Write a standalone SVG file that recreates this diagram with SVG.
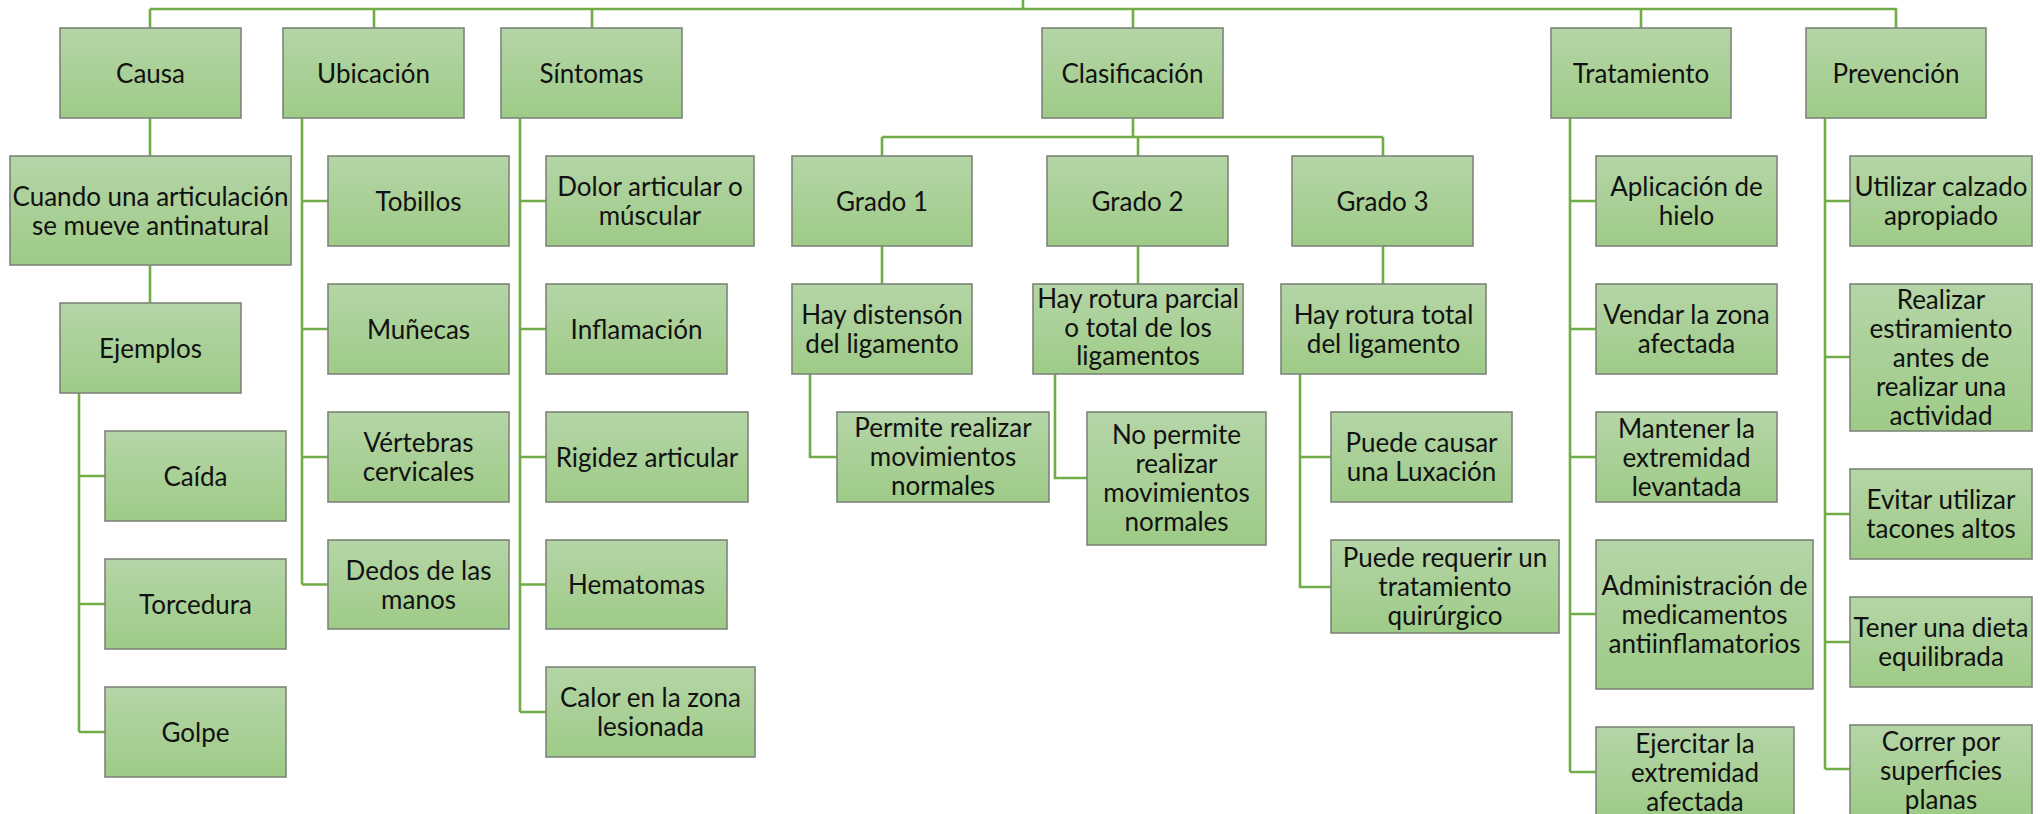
<svg xmlns="http://www.w3.org/2000/svg" width="2041" height="814" viewBox="0 0 2041 814">
<defs>
<linearGradient id="g" x1="0" y1="0" x2="0" y2="1">
<stop offset="0" stop-color="#b5d5a7"/>
<stop offset="1" stop-color="#9ecb87"/>
</linearGradient>
<style>
.b{fill:url(#g);stroke:#7d857a;stroke-width:1.6}
.t{font-family:Lato,"Liberation Sans",sans-serif;font-size:26px;fill:#111;text-anchor:middle}
.c{fill:none;stroke:#70ad47;stroke-width:2.6}
</style>
</defs>
<rect width="2041" height="814" fill="#fff"/>
<g id="connectors" class="c">
<path d="M1023,0V9M150,9H1897M150,9V28M374,9V28M592,9V28M1133,9V28M1641,9V28M1896,9V28"/>
<path d="M150,118V156M150,265V303M79,393V732M79,476H105M79,604H105M79,732H105"/>
<path d="M302,118V584.5M302,201H328M302,329H328M302,457H328M302,584.5H328"/>
<path d="M520,118V712M520,201H546M520,329H546M520,457H546M520,584.5H546M520,712H546"/>
<path d="M1133,118V137M882,137H1383M882,137V156M1138,137V156M1383,137V156"/>
<path d="M882,246V284M1138,246V284M1383,246V284"/>
<path d="M810,374V457H837M1055,374V478H1087M1300,374V587H1331M1300,457H1331"/>
<path d="M1570,118V772M1570,201H1596M1570,329H1596M1570,457H1596M1570,614H1596M1570,772H1596"/>
<path d="M1825,118V769M1825,201H1850M1825,357H1850M1825,514H1850M1825,642H1850M1825,769H1850"/>
</g>
<g id="causa"><rect class="b" x="60" y="28" width="181" height="90"/><text class="t" x="150.5" y="82.5">Causa</text></g>
<g id="ubicacion"><rect class="b" x="283" y="28" width="181" height="90"/><text class="t" x="373.5" y="82.5">Ubicación</text></g>
<g id="sintomas"><rect class="b" x="501" y="28" width="181" height="90"/><text class="t" x="591.5" y="82.5">Síntomas</text></g>
<g id="clasificacion"><rect class="b" x="1042" y="28" width="181" height="90"/><text class="t" x="1132.5" y="82.5">Clasificación</text></g>
<g id="tratamiento"><rect class="b" x="1551" y="28" width="180" height="90"/><text class="t" x="1641" y="82.5">Tratamiento</text></g>
<g id="prevencion"><rect class="b" x="1806" y="28" width="180" height="90"/><text class="t" x="1896" y="82.5">Prevención</text></g>

<g id="cuando"><rect class="b" x="10" y="156" width="281" height="109"/><text class="t" x="150.5" y="205.5">Cuando una articulación<tspan x="150.5" dy="29">se mueve antinatural</tspan></text></g>
<g id="ejemplos"><rect class="b" x="60" y="303" width="181" height="90"/><text class="t" x="150.5" y="357.5">Ejemplos</text></g>
<g id="caida"><rect class="b" x="105" y="431" width="181" height="90"/><text class="t" x="195.5" y="485.5">Caída</text></g>
<g id="torcedura"><rect class="b" x="105" y="559" width="181" height="90"/><text class="t" x="195.5" y="613.5">Torcedura</text></g>
<g id="golpe"><rect class="b" x="105" y="687" width="181" height="90"/><text class="t" x="195.5" y="741.5">Golpe</text></g>

<g id="tobillos"><rect class="b" x="328" y="156" width="181" height="90"/><text class="t" x="418.5" y="210.5">Tobillos</text></g>
<g id="munecas"><rect class="b" x="328" y="284" width="181" height="90"/><text class="t" x="418.5" y="338.5">Muñecas</text></g>
<g id="vertebras"><rect class="b" x="328" y="412" width="181" height="90"/><text class="t" x="418.5" y="452">Vértebras<tspan x="418.5" dy="29">cervicales</tspan></text></g>
<g id="dedos"><rect class="b" x="328" y="540" width="181" height="89"/><text class="t" x="418.5" y="579.5">Dedos de las<tspan x="418.5" dy="29">manos</tspan></text></g>

<g id="dolor"><rect class="b" x="546" y="156" width="208" height="90"/><text class="t" x="650" y="196">Dolor articular o<tspan x="650" dy="29">múscular</tspan></text></g>
<g id="inflamacion"><rect class="b" x="546" y="284" width="181" height="90"/><text class="t" x="636.5" y="338.5">Inflamación</text></g>
<g id="rigidez"><rect class="b" x="546" y="412" width="202" height="90"/><text class="t" x="647" y="466.5">Rigidez articular</text></g>
<g id="hematomas"><rect class="b" x="546" y="540" width="181" height="89"/><text class="t" x="636.5" y="594">Hematomas</text></g>
<g id="calor"><rect class="b" x="546" y="667" width="209" height="90"/><text class="t" x="650.5" y="707">Calor en la zona<tspan x="650.5" dy="29">lesionada</tspan></text></g>

<g id="grado1"><rect class="b" x="792" y="156" width="180" height="90"/><text class="t" x="882" y="210.5">Grado 1</text></g>
<g id="grado2"><rect class="b" x="1047" y="156" width="181" height="90"/><text class="t" x="1137.5" y="210.5">Grado 2</text></g>
<g id="grado3"><rect class="b" x="1292" y="156" width="181" height="90"/><text class="t" x="1382.5" y="210.5">Grado 3</text></g>
<g id="distension"><rect class="b" x="792" y="284" width="180" height="90"/><text class="t" x="882" y="324">Hay distensón<tspan x="882" dy="29">del ligamento</tspan></text></g>
<g id="rotura-parcial"><rect class="b" x="1033" y="284" width="210" height="90"/><text class="t" x="1138" y="308">Hay rotura parcial<tspan x="1138" dy="28.5">o total de los</tspan><tspan x="1138" dy="28.5">ligamentos</tspan></text></g>
<g id="rotura-total"><rect class="b" x="1281" y="284" width="205" height="90"/><text class="t" x="1383.5" y="324">Hay rotura total<tspan x="1383.5" dy="29">del ligamento</tspan></text></g>
<g id="permite"><rect class="b" x="837" y="412" width="212" height="90"/><text class="t" x="943" y="436.5">Permite realizar<tspan x="943" dy="29">movimientos</tspan><tspan x="943" dy="29">normales</tspan></text></g>
<g id="no-permite"><rect class="b" x="1087" y="412" width="179" height="133"/><text class="t" x="1176.5" y="444">No permite<tspan x="1176.5" dy="29">realizar</tspan><tspan x="1176.5" dy="29">movimientos</tspan><tspan x="1176.5" dy="29">normales</tspan></text></g>
<g id="luxacion"><rect class="b" x="1331" y="412" width="181" height="90"/><text class="t" x="1421.5" y="452">Puede causar<tspan x="1421.5" dy="29">una Luxación</tspan></text></g>
<g id="quirurgico"><rect class="b" x="1331" y="540" width="228" height="93"/><text class="t" x="1445" y="567">Puede requerir un<tspan x="1445" dy="29">tratamiento</tspan><tspan x="1445" dy="29">quirúrgico</tspan></text></g>

<g id="aplicacion"><rect class="b" x="1596" y="156" width="181" height="90"/><text class="t" x="1686.5" y="196">Aplicación de<tspan x="1686.5" dy="29">hielo</tspan></text></g>
<g id="vendar"><rect class="b" x="1596" y="284" width="181" height="90"/><text class="t" x="1686.5" y="324">Vendar la zona<tspan x="1686.5" dy="29">afectada</tspan></text></g>
<g id="mantener"><rect class="b" x="1596" y="412" width="181" height="90"/><text class="t" x="1686.5" y="437.5">Mantener la<tspan x="1686.5" dy="29">extremidad</tspan><tspan x="1686.5" dy="29">levantada</tspan></text></g>
<g id="administracion"><rect class="b" x="1596" y="540" width="217" height="149"/><text class="t" x="1704.5" y="595">Administración de<tspan x="1704.5" dy="29">medicamentos</tspan><tspan x="1704.5" dy="29">antiinflamatorios</tspan></text></g>
<g id="ejercitar"><rect class="b" x="1596" y="727" width="198" height="90"/><text class="t" x="1695" y="752.5">Ejercitar la<tspan x="1695" dy="29">extremidad</tspan><tspan x="1695" dy="29">afectada</tspan></text></g>

<g id="utilizar"><rect class="b" x="1850" y="156" width="182" height="90"/><text class="t" x="1941" y="196">Utilizar calzado<tspan x="1941" dy="29">apropiado</tspan></text></g>
<g id="realizar"><rect class="b" x="1850" y="284" width="182" height="147"/><text class="t" x="1941" y="309">Realizar<tspan x="1941" dy="29">estiramiento</tspan><tspan x="1941" dy="29">antes de</tspan><tspan x="1941" dy="29">realizar una</tspan><tspan x="1941" dy="29">actividad</tspan></text></g>
<g id="evitar"><rect class="b" x="1850" y="469" width="182" height="90"/><text class="t" x="1941" y="509">Evitar utilizar<tspan x="1941" dy="29">tacones altos</tspan></text></g>
<g id="tener"><rect class="b" x="1850" y="597" width="182" height="90"/><text class="t" x="1941" y="637">Tener una dieta<tspan x="1941" dy="29">equilibrada</tspan></text></g>
<g id="correr"><rect class="b" x="1850" y="725" width="182" height="90"/><text class="t" x="1941" y="750.5">Correr por<tspan x="1941" dy="29">superficies</tspan><tspan x="1941" dy="29">planas</tspan></text></g>
</svg>
